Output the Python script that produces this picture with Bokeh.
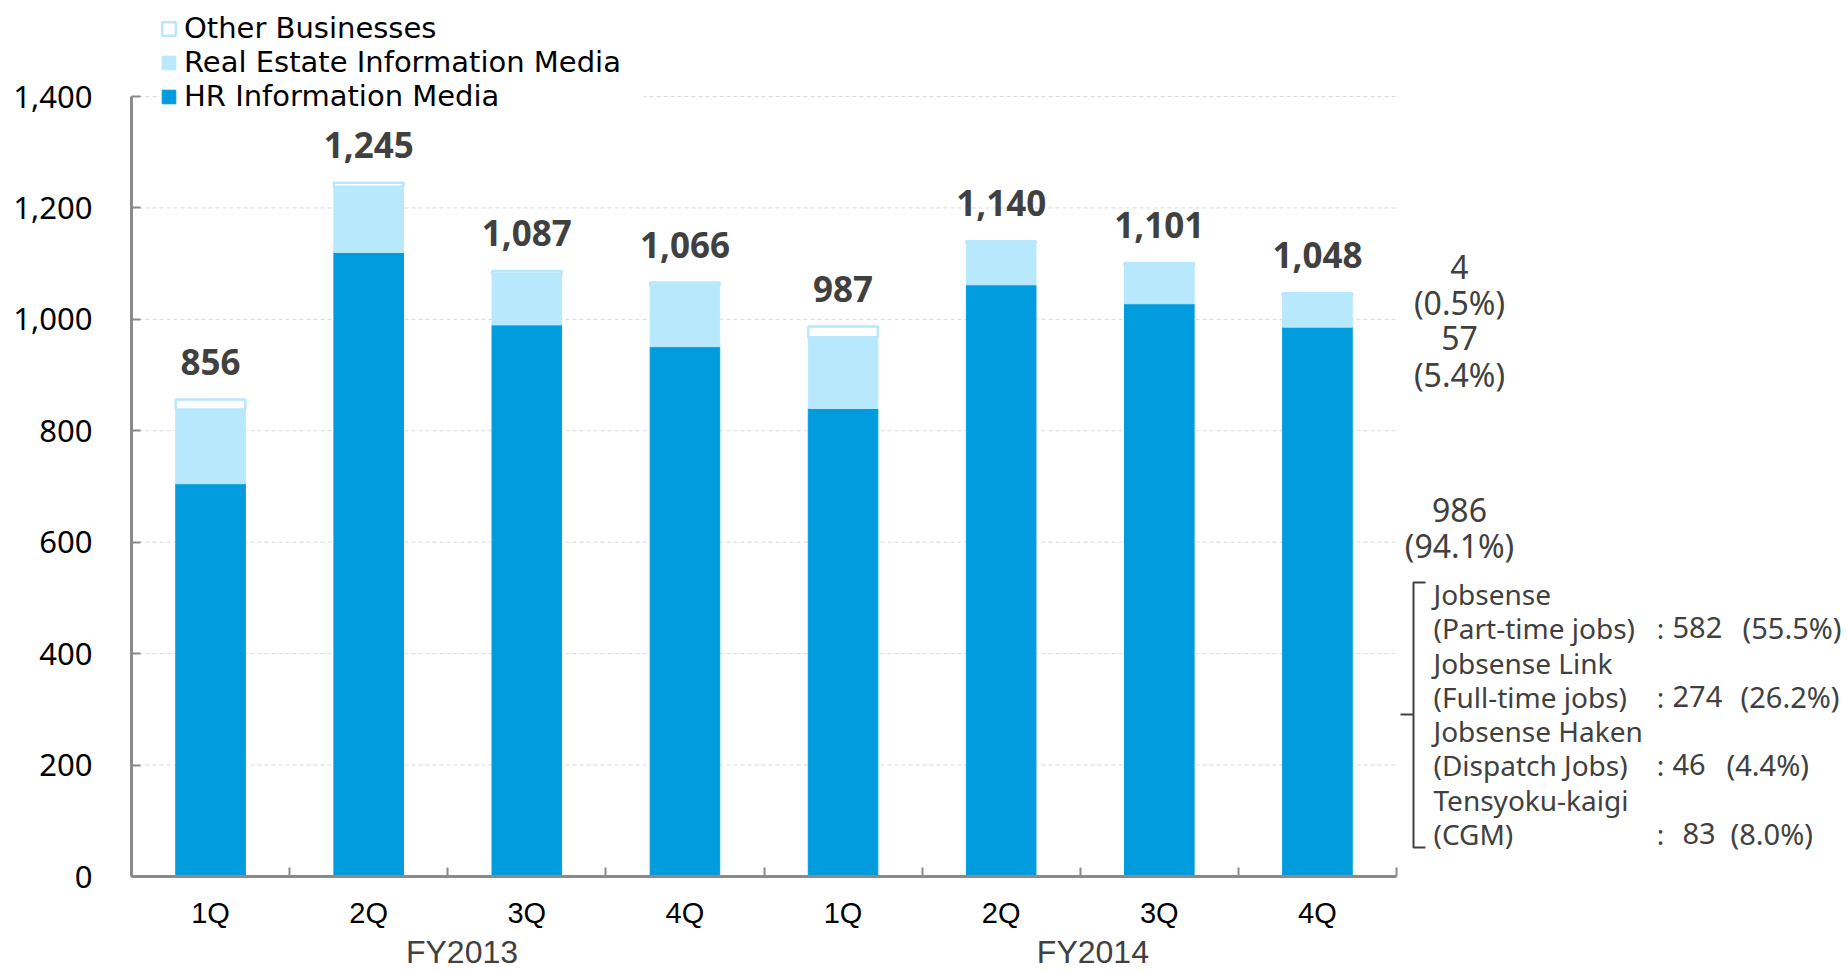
from bokeh.plotting import figure
from bokeh.models import (FixedTicker, LinearAxis, NumeralTickFormatter, Legend,
                          LegendItem, Range1d, ColumnDataSource)
from bokeh.core.properties import value
from bokeh.embed import file_html
from bokeh.resources import INLINE

# ---------------- data ----------------
quarters = ["1Q", "2Q", "3Q", "4Q", "1Q", "2Q", "3Q", "4Q"]
fiscal_years = ["FY2013", "FY2014"]
hr_media = [705, 1120, 990, 951, 840, 1062, 1028, 986]
real_estate = [133, 118, 92, 110, 128, 75, 69, 57]
other_biz = [18, 7, 5, 5, 19, 3, 4, 4]
totals = [856, 1245, 1087, 1066, 987, 1140, 1101, 1048]
y_ticks = [0, 200, 400, 600, 800, 1000, 1200, 1400]

series_names = ["Other Businesses", "Real Estate Information Media", "HR Information Media"]
latest_breakdown = ["4", "(0.5%)", "57", "(5.4%)", "986", "(94.1%)"]
hr_brand_lines = ["Jobsense", "(Part-time jobs)", "Jobsense Link", "(Full-time jobs)",
                  "Jobsense Haken", "(Dispatch Jobs)", "Tensyoku-kaigi", "(CGM)"]
hr_brand_numbers = ["582", "274", "46", "83"]
hr_brand_shares = ["(55.5%)", "(26.2%)", "(4.4%)", "(8.0%)"]

# ---------------- layout helpers ----------------
W, H = 1848, 973
LEFT = 131
ZERO_PX = 876
PX_PER_Y = 780 / 1400
PX_PER_X = 1265 / 8
FONT = "Noto Sans"
NARROW = "Liberation Sans"
WIDE = "DejaVu Sans"


def px_x(px):
    return (px - LEFT) / PX_PER_X


def px_y(py):
    return (ZERO_PX - py) / PX_PER_Y


HR_COLOR = "#009CDD"
RE_COLOR = "#B8E8FC"
AXIS_COLOR = "#8A8A8A"
TEXT_DARK = "#404040"

n = len(quarters)
centers = [i + 0.5 for i in range(n)]
src = ColumnDataSource(dict(
    x=centers,
    hr_bottom=[0] * n,
    hr_top=hr_media,
    re_bottom=hr_media,
    re_top=[h + r for h, r in zip(hr_media, real_estate)],
    ot_bottom=[h + r for h, r in zip(hr_media, real_estate)],
    ot_top=[h + r + o for h, r, o in zip(hr_media, real_estate, other_biz)],
))

p = figure(width=W, height=H,
           x_range=Range1d(0, (W - LEFT) / PX_PER_X),
           y_range=Range1d(0, ZERO_PX / PX_PER_Y),
           min_border_left=LEFT, min_border_right=0, min_border_top=0,
           min_border_bottom=H - ZERO_PX,
           output_backend="svg", toolbar_location=None,
           outline_line_color=None, background_fill_color="white")
p.grid.visible = False

# gridlines (only across the category span)
grid_levels = y_ticks[1:]
p.segment(x0=[0] * len(grid_levels), x1=[n] * len(grid_levels),
          y0=grid_levels, y1=grid_levels,
          line_color="#DADADA", line_width=1, line_dash="4 3")

BAR_W = 0.44
r_hr = p.vbar(x="x", bottom="hr_bottom", top="hr_top", width=BAR_W, source=src,
              fill_color=HR_COLOR, line_color=HR_COLOR, line_width=1)
r_re = p.vbar(x="x", bottom="re_bottom", top="re_top", width=BAR_W, source=src,
              fill_color=RE_COLOR, line_color=RE_COLOR, line_width=1)
r_ot = p.vbar(x="x", bottom="ot_bottom", top="ot_top", width=BAR_W, source=src,
              fill_color="white", line_color=RE_COLOR, line_width=2.5)

# totals above bars
p.text(x=centers, y=totals, text=["{:,}".format(t) for t in totals],
       text_align="center", text_baseline="middle", y_offset=-38,
       text_font=value(FONT), text_font_size="35px", text_font_style="bold",
       text_color=TEXT_DARK)

# ---------------- axes ----------------
xa = p.xaxis[0]
xa.ticker = FixedTicker(ticks=centers, minor_ticks=list(range(n + 1)))
xa.major_label_overrides = {c: q for c, q in zip(centers, quarters)}
xa.bounds = (0, n)
xa.axis_line_color = AXIS_COLOR
xa.axis_line_width = 3
xa.major_tick_in = 0
xa.major_tick_out = 0
xa.minor_tick_in = 9
xa.minor_tick_out = 0
xa.minor_tick_line_color = AXIS_COLOR
xa.minor_tick_line_width = 2
xa.major_label_text_font = NARROW
xa.major_label_text_font_size = "29px"
xa.major_label_text_color = "#000000"
xa.major_label_standoff = 20

# fiscal-year group labels: a second, line-less axis under the quarters
fy_pos = [2.09, 6.08]
xa2 = LinearAxis(ticker=FixedTicker(ticks=fy_pos),
                 major_label_overrides={f: t for f, t in zip(fy_pos, fiscal_years)})
xa2.axis_line_alpha = 0
xa2.major_tick_in = 0
xa2.major_tick_out = 0
xa2.minor_tick_in = 0
xa2.minor_tick_out = 0
xa2.major_label_text_font = NARROW
xa2.major_label_text_font_size = "32px"
xa2.major_label_text_color = TEXT_DARK
xa2.major_label_standoff = 2
p.add_layout(xa2, "below")

ya = p.yaxis[0]
ya.ticker = FixedTicker(ticks=y_ticks)
ya.formatter = NumeralTickFormatter(format="0,0")
ya.bounds = (0, 1400)
ya.axis_line_color = AXIS_COLOR
ya.axis_line_width = 3
ya.major_tick_in = 9
ya.major_tick_out = 0
ya.major_tick_line_color = AXIS_COLOR
ya.major_tick_line_width = 2
ya.minor_tick_in = 0
ya.minor_tick_out = 0
ya.major_label_text_font = FONT
ya.major_label_text_font_size = "31px"
ya.major_label_text_color = "#000000"
ya.major_label_standoff = 39

# ---------------- legend ----------------
legend = Legend(items=[LegendItem(label=series_names[0], renderers=[r_ot]),
                       LegendItem(label=series_names[1], renderers=[r_re]),
                       LegendItem(label=series_names[2], renderers=[r_hr])],
                location=(29, ZERO_PX - 113))
legend.label_text_font = WIDE
legend.label_text_font_size = "29px"
legend.label_text_color = "#000000"
legend.glyph_width = 17
legend.glyph_height = 17
legend.label_height = 34
legend.label_width = 460
legend.label_standoff = 7
legend.spacing = 0
legend.padding = 0
legend.margin = 0
legend.border_line_alpha = 0
legend.background_fill_color = "white"
legend.background_fill_alpha = 1
p.add_layout(legend)

# ---------------- right-side annotations ----------------
ann_y_px = [266, 302, 337, 374, 509, 545]
p.text(x=[px_x(1459)] * len(latest_breakdown), y=[px_y(v) for v in ann_y_px],
       text=latest_breakdown, text_align="center", text_baseline="middle",
       text_font=value(FONT), text_font_size="32px", text_color=TEXT_DARK)

line_y_px = [593, 627, 662, 696, 730, 764, 799, 833]
p.text(x=[px_x(1433)] * len(hr_brand_lines), y=[px_y(v) for v in line_y_px],
       text=hr_brand_lines, text_align="left", text_baseline="middle",
       text_font=value(FONT), text_font_size="28px", text_color=TEXT_DARK)
val_y = [px_y(line_y_px[i]) for i in (1, 3, 5, 7)]
p.text(x=[px_x(1660)] * 4, y=val_y, text=[":"] * 4,
       text_align="center", text_baseline="middle",
       text_font=value(FONT), text_font_size="28px", text_color=TEXT_DARK)
p.text(x=[px_x(v) for v in (1672, 1672, 1672, 1682)], y=val_y, text=hr_brand_numbers,
       text_align="left", text_baseline="middle",
       text_font=value(FONT), text_font_size="29px", text_color=TEXT_DARK)
p.text(x=[px_x(v) for v in (1742, 1740, 1726, 1730)], y=val_y, text=hr_brand_shares,
       text_align="left", text_baseline="middle",
       text_font=value(FONT), text_font_size="29px", text_color=TEXT_DARK)

# bracket
p.line(x=[px_x(1425), px_x(1413), px_x(1413), px_x(1425)],
       y=[px_y(582), px_y(582), px_y(847), px_y(847)],
       line_color=TEXT_DARK, line_width=2)
p.line(x=[px_x(1413), px_x(1400)], y=[px_y(714), px_y(714)],
       line_color=TEXT_DARK, line_width=2)

open("out.html", "w").write(file_html(p, INLINE))
